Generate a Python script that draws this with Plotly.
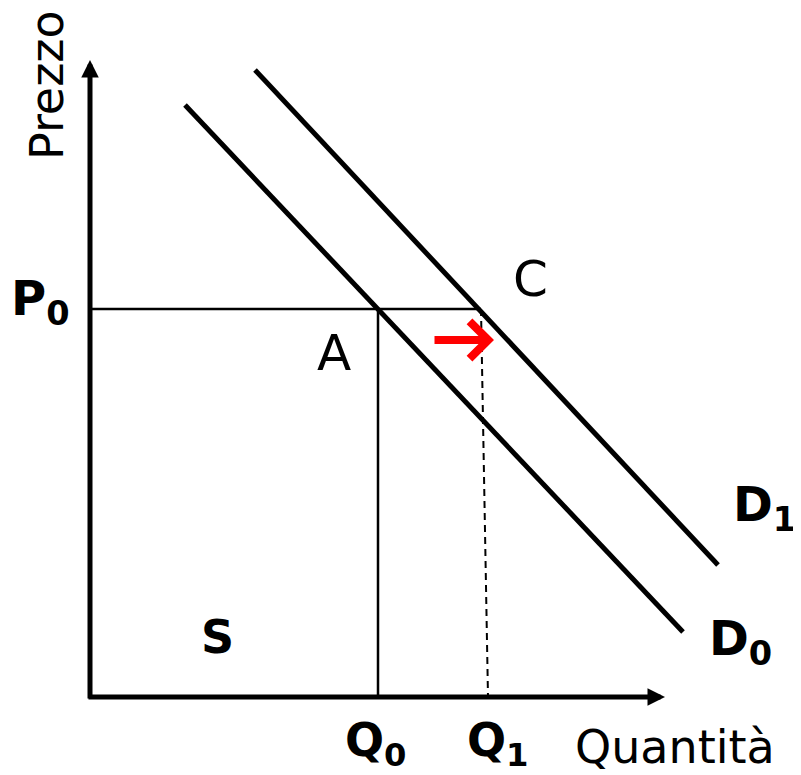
import plotly.graph_objects as go

# Demand curves (quantity, price) — coordinates in chart units, origin at the axes corner
d0_q = [95, 593]
d0_p = [592, 65]
d1_q = [165, 628]
d1_p = [627, 132]

# Equilibrium price and quantities
p0 = 388
q0 = 288
q1_top, q1_bottom = 391, 398

# Axis lengths
q_max = 575
p_max = 637

# Red shift arrow
shift_q = [343, 404]
shift_p = 357

labels = [
    # text, q, p, bold, size, angle
    ("Prezzo", -43, 612, False, 46, -90),
    ("P<sub>0</sub>", -50, 396, True, 48, 0),
    ("A", 244, 344, False, 50, 0),
    ("C", 440, 418, False, 50, 0),
    ("D<sub>1</sub>", 674, 190, True, 48, 0),
    ("D<sub>0</sub>", 650, 56, True, 48, 0),
    ("S", 127, 60, True, 46, 0),
    ("Q<sub>0</sub>", 286, -46, True, 46, 0),
    ("Q<sub>1</sub>", 408, -46, True, 46, 0),
    ("Quantità", 585, -50, False, 46, 0),
]

fig = go.Figure()

black = "#000000"

# guide lines
fig.add_trace(go.Scatter(x=[0, q1_top], y=[p0, p0], mode="lines",
                         line=dict(color=black, width=2.5), hoverinfo="skip"))
fig.add_trace(go.Scatter(x=[q0, q0], y=[p0, 0], mode="lines",
                         line=dict(color=black, width=2.5), hoverinfo="skip"))
fig.add_trace(go.Scatter(x=[q1_top, q1_bottom], y=[p0, 0], mode="lines",
                         line=dict(color=black, width=2, dash="7px,5px"), hoverinfo="skip"))

# demand curves
fig.add_trace(go.Scatter(x=d0_q, y=d0_p, mode="lines",
                         line=dict(color=black, width=5), hoverinfo="skip"))
fig.add_trace(go.Scatter(x=d1_q, y=d1_p, mode="lines",
                         line=dict(color=black, width=5), hoverinfo="skip"))

# axes with arrowheads
fig.add_annotation(x=0, y=p_max, ax=0, ay=-3, xref="x", yref="y", axref="x", ayref="y",
                   showarrow=True, arrowhead=2, arrowsize=0.7, arrowwidth=5,
                   arrowcolor=black, text="")
fig.add_annotation(x=q_max, y=0, ax=-3, ay=0, xref="x", yref="y", axref="x", ayref="y",
                   showarrow=True, arrowhead=2, arrowsize=0.7, arrowwidth=5,
                   arrowcolor=black, text="")

# red shift arrow
fig.add_annotation(x=shift_q[1], y=shift_p, ax=shift_q[0], ay=shift_p,
                   xref="x", yref="y", axref="x", ayref="y",
                   showarrow=True, arrowhead=4, arrowsize=0.9, arrowwidth=8,
                   arrowcolor="#ff0000", text="")

for text, q, p, bold, size, angle in labels:
    fig.add_annotation(x=q, y=p, xref="x", yref="y", text=text, showarrow=False,
                       textangle=angle,
                       font=dict(family="DejaVu Sans", size=size, color=black,
                                 weight="bold" if bold else "normal"))

# the page body adds an 8px margin, so the figure is 8px smaller than the window
fig.update_layout(
    width=793, height=767,
    margin=dict(l=0, r=0, t=0, b=0),
    showlegend=False,
    plot_bgcolor="white", paper_bgcolor="white",
    xaxis=dict(range=[-82, 711], visible=False, fixedrange=True),
    yaxis=dict(range=[-78, 689], visible=False, fixedrange=True),
)

fig.write_html("out.html")
